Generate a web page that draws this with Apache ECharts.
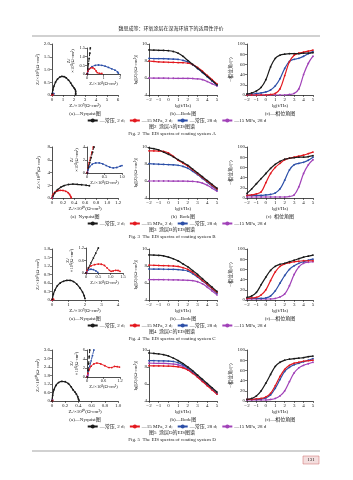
<!DOCTYPE html>
<html><head><meta charset="utf-8">
<script src="https://cdn.jsdelivr.net/npm/echarts@6/dist/echarts.min.js"></script>
<style>html,body{margin:0;padding:0;background:#fff}#c{width:353px;height:480px}</style>
</head><body><div id="c"></div>
<script>
// ---------- shared axes / categories ----------
const lgf = [-2,-1.5,-1,-0.5,0,0.5,1,1.5,2,2.5,3,3.5,4,4.5,5];
const seriesNames = ['常压, 2 d','15 MPa, 2 d','常压, 28 d','15 MPa, 28 d'];
const figNums = ['2','3','4','5'];
const coatings = ['A','B','C','D'];
const nyqXMax = [6, 1.2, 4, 1.0];
const nyqXInt = [1, 0.2, 1, 0.2];
const nyqYMax = [2.0, 8, 1.8, 3.6];
const nyqYInt = [0.5, 2, 0.3, 0.6];
const nyqExp  = ['⁹','¹⁰','⁹','¹⁰'];
const insXMax = [2, 1.0, 1.5, 1.2];
const insXInt = [1, 0.5, 0.5, 0.6];
const insYMax = [1.5, 4, 1.2, 6];
const insYInt = [0.5, 2, 0.6, 2];
const insExp  = ['⁸','⁸','⁸','⁸'];

// ---------- Fig 2 (coating A) ----------
const bodeA_k = [9.30,9.28,9.26,9.24,9.21,9.12,8.92,8.55,8.05,7.60,7.15,6.70,6.20,5.70,5.20];
const bodeA_r = [8.00,7.95,7.90,7.87,7.85,7.83,7.82,7.80,7.75,7.58,7.25,6.80,6.30,5.80,5.30];
const bodeA_b = [8.30,8.29,8.28,8.27,8.25,8.22,8.18,8.08,7.88,7.55,7.12,6.65,6.15,5.65,5.15];
const bodeA_p = [6.00,5.99,5.98,5.98,5.97,5.97,5.96,5.96,5.95,5.94,5.90,5.80,5.58,5.32,5.05];
const phaseA_k = [2,4,8,15,30,55,72,78,80,81,81,81,82,82,83];
const phaseA_r = [0,0,0,0,0,1,3,12,38,65,78,82,84,86,88];
const phaseA_b = [1,2,3,4,6,10,18,32,52,66,70,72,76,81,85];
const phaseA_p = [0,0,0,0,0,0,0,0,0,1,3,12,40,62,76];
const nyqA_k = [[0.02,0.05],[0.08,0.2],[0.18,0.35],[0.32,0.5],[0.5,0.62],[0.7,0.7],[0.9,0.73],[1.1,0.72],[1.3,0.67],[1.5,0.58],[1.7,0.47],[1.85,0.37],[2.0,0.28],[2.1,0.22],[2.15,0.15],[2.15,0.07],[2.15,0.02]];
const nyqA_r = [[0,0],[0.02,0.02],[0.05,0.03],[0.08,0.02]];
const nyqA_b = [[0,0],[0.02,0.03],[0.05,0.05],[0.1,0.06],[0.18,0.05]];
const nyqA_p = [[0,0],[0.01,0.01]];
const insA_k = [[0.02,0],[0.05,0.3],[0.09,0.6],[0.13,0.9],[0.17,1.2],[0.2,1.5]];
const insA_r = [[0,0],[0.05,0.15],[0.12,0.28],[0.22,0.35],[0.35,0.36],[0.45,0.3],[0.55,0.18],[0.62,0.08],[0.75,0.04],[0.9,0.03]];
const insA_b = [[0,0],[0.05,0.15],[0.15,0.3],[0.3,0.42],[0.5,0.5],[0.7,0.52],[0.9,0.5],[1.1,0.45],[1.3,0.38],[1.5,0.3],[1.7,0.22],[1.85,0.12],[1.9,0.05]];
const insA_p = [[0,0],[0.02,0.02],[0.04,0.03]];

// ---------- Fig 3 (coating B) ----------
const bodeB_k = [9.90,9.80,9.65,9.40,9.15,8.85,8.50,8.20,7.85,7.40,6.95,6.50,6.05,5.60,5.15];
const bodeB_r = [9.55,9.54,9.52,9.48,9.30,8.90,8.45,8.10,7.75,7.30,6.85,6.40,5.95,5.50,5.05];
const bodeB_b = [8.05,8.00,7.97,7.95,7.93,7.90,7.85,7.72,7.50,7.15,6.75,6.30,5.85,5.40,4.95];
const bodeB_p = [6.00,6.00,6.00,6.00,6.00,5.99,5.99,5.98,5.97,5.95,5.90,5.75,5.50,5.15,4.80];
const phaseB_k = [9,18,28,38,48,58,66,72,76,78,79,80,80,81,83];
const phaseB_r = [5,6,8,12,30,48,60,68,75,78,80,82,84,87,90];
const phaseB_b = [5,5,5,5,6,7,10,18,35,55,65,68,70,74,80];
const phaseB_p = [2,2,2,2,2,2,2,2,2,3,6,22,48,65,75];
const nyqB_k = [[0.02,0.3],[0.05,0.8],[0.1,1.3],[0.16,1.7],[0.22,1.95],[0.3,2.12],[0.38,2.18],[0.46,2.15],[0.54,2.08],[0.62,2.0],[0.68,1.92]];
const nyqB_r = [[0,0],[0.01,0.4],[0.03,0.7],[0.06,0.95],[0.1,1.12],[0.15,1.2],[0.2,1.18],[0.25,1.05],[0.29,0.85],[0.32,0.55],[0.34,0.25],[0.35,0.05]];
const nyqB_b = [[0,0],[0.005,0.05],[0.01,0.08]];
const nyqB_p = [[0,0],[0.003,0.02]];
const insB_k = [[0.01,0],[0.04,0.8],[0.08,1.6],[0.12,2.4],[0.16,3.2],[0.2,4.0]];
const insB_r = [[0,0],[0.03,0.8],[0.06,1.6],[0.1,2.4],[0.14,3.2],[0.18,4.0]];
const insB_b = [[0,0],[0.03,0.5],[0.08,1.0],[0.15,1.35],[0.25,1.55],[0.35,1.55],[0.45,1.4],[0.55,1.15],[0.65,0.9],[0.75,0.78],[0.85,0.85],[0.95,1.05],[1.0,1.15]];
const insB_p = [[0,0],[0.01,0.05],[0.02,0.08]];

// ---------- Fig 4 (coating C) ----------
const bodeC_k = [9.30,9.28,9.25,9.20,9.05,8.85,8.60,8.25,7.90,7.45,7.00,6.50,6.00,5.50,5.00];
const bodeC_r = [8.10,8.08,8.06,8.05,8.03,8.00,7.95,7.80,7.60,7.25,6.80,6.30,5.85,5.35,4.90];
const bodeC_b = [7.65,7.64,7.63,7.62,7.61,7.60,7.58,7.52,7.40,7.10,6.70,6.25,5.80,5.30,4.80];
const bodeC_p = [6.40,6.40,6.40,6.39,6.38,6.37,6.36,6.34,6.32,6.28,6.15,5.90,5.50,5.05,4.60];
const phaseC_k = [5,8,15,30,45,58,66,70,72,75,78,81,84,86,88];
const phaseC_r = [3,4,5,10,20,38,55,66,71,73,75,76,77,77,77];
const phaseC_b = [3,3,3,3,4,8,18,33,48,60,67,72,75,78,80];
const phaseC_p = [2,2,2,2,2,2,3,6,12,28,50,65,72,74,75];
const nyqC_k = [[0.02,0.03],[0.08,0.2],[0.18,0.35],[0.32,0.5],[0.5,0.6],[0.7,0.66],[0.9,0.69],[1.1,0.69],[1.3,0.65],[1.5,0.56],[1.7,0.42],[1.85,0.28],[1.95,0.15],[2.0,0.05]];
const nyqC_r = [[0,0],[0.02,0.02],[0.06,0.03],[0.1,0.02]];
const nyqC_b = [[0,0],[0.02,0.01],[0.04,0.01]];
const nyqC_p = [[0,0],[0.01,0.005]];
const insC_k = [[0,0],[0.1,0.24],[0.2,0.48],[0.3,0.72],[0.4,0.96],[0.5,1.2]];
const insC_r = [[0,0],[0.04,0.12],[0.1,0.24],[0.2,0.34],[0.35,0.4],[0.5,0.43],[0.62,0.42],[0.75,0.36],[0.85,0.25],[0.95,0.13],[1.02,0.08],[1.1,0.1],[1.2,0.13],[1.3,0.12],[1.38,0.08]];
const insC_b = [[0,0],[0.03,0.08],[0.1,0.15],[0.2,0.18],[0.3,0.16],[0.4,0.1],[0.48,0.03]];
const insC_p = [[0,0],[0.02,0.02],[0.04,0.02]];

// ---------- Fig 5 (coating D) ----------
const bodeD_k = [9.65,9.60,9.55,9.45,9.30,9.05,8.75,8.40,8.00,7.55,7.05,6.55,6.05,5.55,5.05];
const bodeD_r = [8.15,8.14,8.13,8.12,8.10,8.08,8.02,7.90,7.65,7.25,6.80,6.30,5.80,5.30,4.80];
const bodeD_b = [8.75,8.74,8.73,8.72,8.70,8.65,8.50,8.25,7.85,7.40,6.90,6.40,5.90,5.40,4.90];
const bodeD_p = [8.45,8.44,8.43,8.42,8.40,8.35,8.25,8.05,7.70,7.30,6.85,6.35,5.85,5.35,4.85];
const phaseD_k = [3,5,10,20,35,52,68,76,80,82,83,84,85,87,88];
const phaseD_r = [3,3,4,5,8,15,30,48,62,70,74,76,78,79,80];
const phaseD_b = [3,3,3,4,6,12,25,42,58,66,71,74,77,80,83];
const phaseD_p = [2,2,2,2,2,3,5,10,20,38,55,65,70,73,76];
const nyqD_k = [[0,0],[0.01,0.4],[0.03,0.8],[0.06,1.1],[0.1,1.3],[0.15,1.38],[0.2,1.36],[0.25,1.22],[0.29,1.0],[0.32,0.78],[0.35,0.62],[0.37,0.48],[0.39,0.3],[0.4,0.15],[0.41,0.05]];
const nyqD_r = [[0,0],[0.005,0.03],[0.01,0.04]];
const nyqD_b = [[0,0],[0.004,0.05],[0.008,0.08]];
const nyqD_p = [[0,0],[0.003,0.02]];
const insD_k = [[0.02,0],[0.04,1.5],[0.06,3],[0.08,4.5],[0.1,6]];
const insD_r = [[0,0],[0.03,0.8],[0.08,1.6],[0.15,2.4],[0.25,2.9],[0.36,3.1],[0.5,2.9],[0.65,2.5],[0.8,2.1],[0.9,2.1],[1.0,2.35],[1.1,2.3],[1.18,2.2]];
const insD_b = [[0,0],[0.05,1.2],[0.1,2.4],[0.15,3.6],[0.2,4.8],[0.25,6]];
const insD_p = [[0,0],[0.02,0.3],[0.04,0.5]];

// ---------- assemble ----------
const colors = ['#1a1a1a','#e3191f','#2c4fa8','#a142b8'];
const bodes  = [[bodeA_k,bodeA_r,bodeA_b,bodeA_p],[bodeB_k,bodeB_r,bodeB_b,bodeB_p],[bodeC_k,bodeC_r,bodeC_b,bodeC_p],[bodeD_k,bodeD_r,bodeD_b,bodeD_p]];
const phases = [[phaseA_k,phaseA_r,phaseA_b,phaseA_p],[phaseB_k,phaseB_r,phaseB_b,phaseB_p],[phaseC_k,phaseC_r,phaseC_b,phaseC_p],[phaseD_k,phaseD_r,phaseD_b,phaseD_p]];
const nyqs   = [[nyqA_k,nyqA_r,nyqA_b,nyqA_p],[nyqB_k,nyqB_r,nyqB_b,nyqB_p],[nyqC_k,nyqC_r,nyqC_b,nyqC_p],[nyqD_k,nyqD_r,nyqD_b,nyqD_p]];
const insets = [[insA_k,insA_r,insA_b,insA_p],[insB_k,insB_r,insB_b,insB_p],[insC_k,insC_r,insC_b,insC_p],[insD_k,insD_r,insD_b,insD_p]];

const tops = [44, 147, 249, 350];
const insetBox = [[87,48,33,26],[87,147,35,26],[86,248,37,25],[87,350,33,27]];
const FF = "'Liberation Serif','Noto Sans CJK SC',serif";
const TC = '#222';

function fmt(intv){ return v => Number.isInteger(intv) ? String(v) : (Math.abs(v)<1e-9 ? '0' : v.toFixed(1)); }
function axisBase(fs){
  return {
    axisLine:{show:true,onZero:false,lineStyle:{color:'#222',width:0.8}},
    axisTick:{show:true,length:2,lineStyle:{color:'#222',width:0.6}},
    splitLine:{show:false},
    axisLabel:{fontSize:fs,margin:2,color:TC,fontFamily:FF},
    nameTextStyle:{fontSize:fs,color:TC,fontFamily:FF},
    nameLocation:'middle'
  };
}
const grid=[], xAxis=[], yAxis=[], series=[], legend=[], graphic=[];
for(let f=0; f<4; f++){
  const T = tops[f];
  grid.push({left:52, top:T, width:66, height:51});
  grid.push({left:149, top:T, width:68, height:51});
  grid.push({left:247, top:T, width:66, height:51});
  const ib = insetBox[f];
  grid.push({left:ib[0], top:ib[1], width:ib[2], height:ib[3]});
  const g0 = f*4;
  // Nyquist
  xAxis.push(Object.assign(axisBase(5),{type:'value',gridIndex:g0,min:0,max:nyqXMax[f],interval:nyqXInt[f],
    name:'Zᵣ/×10'+nyqExp[f]+'(Ω·cm²)',nameGap:8,axisLabel:Object.assign(axisBase(5).axisLabel,{formatter:fmt(nyqXInt[f])})}));
  yAxis.push(Object.assign(axisBase(5),{type:'value',gridIndex:g0,min:0,max:nyqYMax[f],interval:nyqYInt[f],
    name:'Zᵢ/×10'+nyqExp[f]+'(Ω·cm²)',nameGap:11,axisLabel:Object.assign(axisBase(5).axisLabel,{formatter:fmt(nyqYInt[f])})}));
  // Bode
  xAxis.push(Object.assign(axisBase(5),{type:'value',gridIndex:g0+1,min:-2,max:5,interval:1,name:'lg(f/Hz)',nameGap:8,
    axisLabel:Object.assign(axisBase(5).axisLabel,{formatter:v=>String(v).replace('-','−')})}));
  yAxis.push(Object.assign(axisBase(5),{type:'value',gridIndex:g0+1,min:4,max:10,interval:2,name:'lg[|Z|/(Ω·cm²)]',nameGap:8}));
  // Phase
  xAxis.push(Object.assign(axisBase(5),{type:'value',gridIndex:g0+2,min:-2,max:5,interval:1,name:'lg(f/Hz)',nameGap:8,
    axisLabel:Object.assign(axisBase(5).axisLabel,{formatter:v=>String(v).replace('-','−')})}));
  yAxis.push(Object.assign(axisBase(5),{type:'value',gridIndex:g0+2,min:0,max:100,interval:20,name:'−相位角/(°)',nameGap:11}));
  // Inset
  xAxis.push(Object.assign(axisBase(4.5),{type:'value',gridIndex:g0+3,min:0,max:insXMax[f],interval:insXInt[f],
    name:'Zᵣ/×10'+insExp[f]+'(Ω·cm²)',nameGap:7,axisLabel:Object.assign(axisBase(4.5).axisLabel,{formatter:fmt(insXInt[f])})}));
  yAxis.push(Object.assign(axisBase(4.5),{type:'value',gridIndex:g0+3,min:0,max:insYMax[f],interval:insYInt[f],
    name:'Zᵢ/\n×10'+insExp[f]+'(Ω·cm²)',nameGap:8,axisLabel:Object.assign(axisBase(4.5).axisLabel,{formatter:fmt(insYInt[f])})}));

  for(let c=3;c>=0;c--){
    const common = {type:'line',name:seriesNames[c],symbol:'circle',symbolSize:1.8,showSymbol:true,
      itemStyle:{color:colors[c]},lineStyle:{color:colors[c],width:1.2},emphasis:{disabled:true},animation:false};
    series.push(Object.assign({},common,{xAxisIndex:g0,yAxisIndex:g0,smooth:0.3,data:nyqs[f][c]}));
    series.push(Object.assign({},common,{xAxisIndex:g0+1,yAxisIndex:g0+1,smooth:0.4,data:lgf.map((x,i)=>[x,bodes[f][c][i]])}));
    series.push(Object.assign({},common,{xAxisIndex:g0+2,yAxisIndex:g0+2,smooth:0.4,data:lgf.map((x,i)=>[x,phases[f][c][i]])}));
    const ins = insets[f][c];
    const steep = ins.length<=6 && c<3 && ins[ins.length-1][1]>=insYMax[f]*0.99;
    series.push(Object.assign({},common,{xAxisIndex:g0+3,yAxisIndex:g0+3,smooth:0.3,clip:true,data:ins,
      lineStyle:{color:colors[c],width:1,type:steep?'dashed':'solid'}}));
  }
  legend.push({top:T+74,left:'center',itemWidth:10,itemHeight:5,itemGap:4,padding:0,data:seriesNames,
    textStyle:{fontSize:5,color:TC,fontFamily:FF,padding:[0,0,0,-3]},
    formatter:n=>'—'+n+(n===seriesNames[3]?'':';'),selectedMode:false});
  const dash = f===1 ? '  ' : '—';
  const cap = (txt,x,y)=>({type:'text',silent:true,style:{text:txt,x:x,y:y,textAlign:'center',textVerticalAlign:'middle',verticalAlign:'middle',font:'5px '+FF,fill:TC}});
  graphic.push(cap('(a)'+dash+'Nyquist图',85,T+70));
  graphic.push(cap('(b)'+dash+'Bode图',183,T+70));
  graphic.push(cap('(c)'+dash+'相位角图',280,T+70));
  graphic.push(cap('图'+figNums[f]+'  涂层'+coatings[f]+'的EIS图谱',172,T+83));
  graphic.push(cap('Fig. '+figNums[f]+'  The EIS spectra of coating system '+coatings[f],172,T+90));
}
graphic.push({type:'text',silent:true,style:{text:'魏思成等：环氧涂层在深海环境下的适用性评价',x:171,y:29,textAlign:'center',textVerticalAlign:'middle',verticalAlign:'middle',font:'5px '+FF,fill:TC}});
graphic.push({type:'line',silent:true,shape:{x1:32,y1:36,x2:320,y2:36},style:{stroke:'#666',lineWidth:0.6}});
graphic.push({type:'line',silent:true,shape:{x1:32,y1:451,x2:320,y2:451},style:{stroke:'#666',lineWidth:0.6}});
graphic.push({type:'rect',silent:true,shape:{x:303,y:456,width:16,height:8},style:{fill:'#f4dede',stroke:'#c66',lineWidth:0.5}});
graphic.push({type:'text',silent:true,style:{text:'131',x:311,y:460,textAlign:'center',textVerticalAlign:'middle',verticalAlign:'middle',font:'5px '+FF,fill:'#222'}});

const chart = echarts.init(document.getElementById('c'),null,{renderer:'canvas'});
chart.setOption({animation:false,backgroundColor:'#fff',grid,xAxis,yAxis,series,legend,graphic});
</script></body></html>
